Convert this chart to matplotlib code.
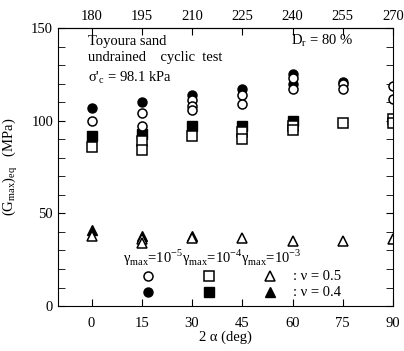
import numpy as np
import matplotlib
matplotlib.use("Agg")
import matplotlib.pyplot as plt
from matplotlib.ticker import MultipleLocator

plt.rcParams['font.family'] = ['Liberation Serif', 'DejaVu Serif']
plt.rcParams['mathtext.fontset'] = 'custom'
plt.rcParams['mathtext.rm'] = 'Liberation Serif'
plt.rcParams['font.size'] = 10.5

# gamma_max = 1e-5 (circles)
circ_open_x = [0, 15, 15, 30, 30, 30, 45, 45, 60, 60, 75, 75, 90, 90]
circ_open_y = [100, 104, 97, 111, 108, 106, 114, 109, 123, 117, 120, 117, 119, 112]
circ_fill_x = [0, 15, 30, 45, 60, 60, 75]
circ_fill_y = [107, 110, 114, 117, 125, 120, 121]

# gamma_max = 1e-4 (squares)
sq_open_x = [0, 15, 15, 30, 45, 45, 60, 60, 75, 90, 90]
sq_open_y = [86, 89, 84, 92, 94, 90, 97, 95, 99, 101, 99]
sq_fill_x = [0, 15, 30, 45, 60]
sq_fill_y = [92, 93, 97, 97, 100]

# gamma_max = 1e-3 (triangles)
tri_open_x = [0, 15, 15, 30, 45, 60, 75, 90]
tri_open_y = [38, 36, 34, 37, 37, 35, 35, 36]
tri_fill_x = [0, 15, 30]
tri_fill_y = [41, 38, 38]

fig = plt.figure(figsize=(4.04, 3.51), dpi=100)
ax = fig.add_axes([0.1436, 0.128, 0.8292, 0.792])

ms = 6.5
kw_open = dict(ls='none', mfc='white', mec='black', mew=1.1, ms=ms)
kw_fill = dict(ls='none', mfc='black', mec='black', ms=ms)

ax.plot(circ_fill_x, circ_fill_y, 'o', **kw_fill)
ax.plot(sq_fill_x, sq_fill_y, 's', **kw_fill)
ax.plot(tri_fill_x, tri_fill_y, '^', **kw_fill)
ax.plot(circ_open_x, circ_open_y, 'o', **kw_open)
ax.plot(sq_open_x, sq_open_y, 's', **kw_open)
ax.plot(tri_open_x, tri_open_y, '^', **kw_open)

ax.set_xlim(-10, 90)
ax.set_ylim(0, 150)
ax.set_xticks(np.arange(0, 91, 15))
ax.set_yticks([0, 50, 100, 150])
ax.yaxis.set_minor_locator(MultipleLocator(10))
ax.tick_params(which='both', direction='in', right=True, top=True)
ax.tick_params(which='major', length=5)
ax.tick_params(which='minor', length=5)
ax.tick_params(axis='x', top=False, pad=8)

top = ax.secondary_xaxis('top', functions=(lambda x: x + 180, lambda x: x - 180))
top.set_xticks(np.arange(180, 271, 15))
top.tick_params(direction='in', length=5, pad=4)

ax.set_xlabel('2 α (deg)', labelpad=0)
ax.set_ylabel(r'(G$_{\rm max}$)$_{\rm eq}$   (MPa)', labelpad=8)

ax.text(-1, 143, 'Toyoura sand', va='center')
ax.text(-1, 134, 'undrained    cyclic  test', va='center')
ax.text(-1, 123, r"σ'$_{\rm c}$ = 98.1 kPa", va='center')
ax.text(59.5, 143, r'D$_{\rm r}$ = 80 %', va='center')

# legend block
ax.text(9.5, 26, r'γ$_{\rm max}$=10$^{-5}$γ$_{\rm max}$=10$^{-4}$γ$_{\rm max}$=10$^{-3}$',
        va='center')
ax.plot([16.8], [16], 'o', **kw_open)
ax.plot([35], [16], 's', **kw_open)
ax.plot([53.3], [16], '^', **kw_open)
ax.plot([16.8], [7.5], 'o', **kw_fill)
ax.plot([35], [7.5], 's', **kw_fill)
ax.plot([53.3], [7.5], '^', **kw_fill)
ax.text(60, 16, ': ν = 0.5', va='center')
ax.text(60, 7.5, ': ν = 0.4', va='center')

fig.savefig('out.png', dpi=100)
